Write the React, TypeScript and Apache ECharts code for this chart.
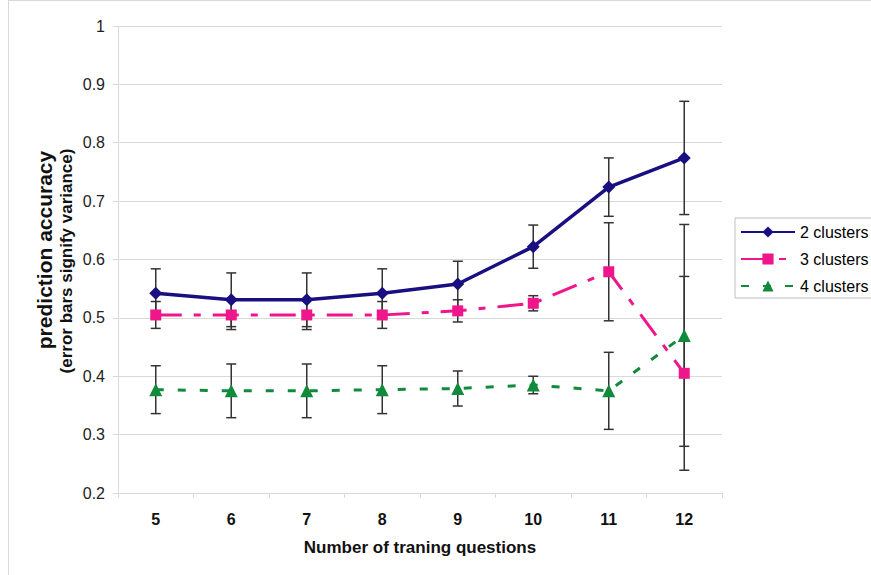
import React, { useEffect, useRef } from "react";
import * as echarts from "echarts";

const categories = ["5", "6", "7", "8", "9", "10", "11", "12"];
const seriesNames = ["2 clusters", "3 clusters", "4 clusters"];
const s2 = [0.542, 0.531, 0.531, 0.542, 0.558, 0.622, 0.724, 0.774];
const s2err = [0.042, 0.046, 0.046, 0.042, 0.039, 0.037, 0.05, 0.097];
const s3 = [0.505, 0.505, 0.505, 0.505, 0.512, 0.525, 0.579, 0.405];
const s3err = [0.023, 0.025, 0.025, 0.023, 0.019, 0.013, 0.084, 0.166];
const s4 = [0.377, 0.375, 0.375, 0.377, 0.379, 0.385, 0.375, 0.47];
const s4err = [0.041, 0.046, 0.046, 0.041, 0.03, 0.015, 0.066, 0.19];

const FONT = "'Liberation Sans', Arial, sans-serif";
const GRAY = "#d9d9d9";
const C2 = "#1a0f80";
const C3 = "#ef168c";
const C4 = "#128a3c";

function errData(vals: number[], errs: number[]) {
  return vals.map((v, i) => [i, v - errs[i], v + errs[i]]);
}

function errSeries(name: string, vals: number[], errs: number[]) {
  return {
    type: "custom",
    name,
    z: 1,
    data: errData(vals, errs),
    encode: { x: 0, y: [1, 2] },
    renderItem: (params: any, api: any) => {
      const x = api.value(0);
      const top = api.coord([x, api.value(2)]);
      const bot = api.coord([x, api.value(1)]);
      const hw = 5;
      const st = { stroke: "#333333", lineWidth: 1.5 };
      return {
        type: "group",
        children: [
          { type: "line", shape: { x1: top[0], y1: top[1], x2: bot[0], y2: bot[1] }, style: st },
          { type: "line", shape: { x1: top[0] - hw, y1: top[1], x2: top[0] + hw, y2: top[1] }, style: st },
          { type: "line", shape: { x1: bot[0] - hw, y1: bot[1], x2: bot[0] + hw, y2: bot[1] }, style: st },
        ],
      };
    },
  };
}

export default function App() {
  const ref = useRef<HTMLDivElement>(null);
  useEffect(() => {
    if (!ref.current) return;
    const chart = echarts.init(ref.current, undefined, { renderer: "svg" });
    chart.setOption({
      animation: false,
      backgroundColor: "#ffffff",
      textStyle: { fontFamily: FONT },
      grid: { left: 118, right: 149, top: 26, bottom: 82, containLabel: false },
      legend: {
        orient: "vertical",
        left: 735,
        top: 218,
        data: seriesNames,
        itemWidth: 54,
        itemHeight: 14,
        itemGap: 11,
        padding: [6, 4, 4, 5],
        borderColor: "#bfbfbf",
        borderWidth: 1,
        textStyle: { fontFamily: FONT, fontSize: 16, color: "#000" },
      },
      xAxis: {
        type: "category",
        data: categories,
        boundaryGap: true,
        axisLine: { lineStyle: { color: GRAY } },
        axisTick: { show: true, length: 5, lineStyle: { color: GRAY } },
        axisLabel: { fontFamily: FONT, fontSize: 16, fontWeight: "bold", color: "#111", margin: 18 },
        name: "Number of traning questions",
        nameLocation: "middle",
        nameGap: 46,
        nameTextStyle: { fontFamily: FONT, fontSize: 17, fontWeight: "bold", color: "#111" },
      },
      yAxis: {
        type: "value",
        min: 0.2,
        max: 1,
        interval: 0.1,
        axisLine: { show: true, lineStyle: { color: GRAY } },
        axisTick: { show: true, length: 5, lineStyle: { color: GRAY } },
        splitLine: { show: true, lineStyle: { color: GRAY, width: 1 } },
        axisLabel: {
          fontFamily: FONT,
          fontSize: 16,
          color: "#222",
          margin: 13,
          formatter: (v: number) => String(parseFloat(v.toFixed(1))),
        },
      },
      graphic: [
        { type: "line", shape: { x1: 8.5, y1: 0, x2: 8.5, y2: 575 }, style: { stroke: GRAY, lineWidth: 1 } },
        { type: "line", shape: { x1: 8, y1: 0.5, x2: 871, y2: 0.5 }, style: { stroke: GRAY, lineWidth: 1 } },
        {
          type: "text",
          x: 44,
          y: 250,
          rotation: Math.PI / 2,
          style: {
            text: "prediction accuracy",
            fontFamily: FONT,
            fontSize: 21,
            fontWeight: "bold",
            fill: "#111",
            align: "center",
            verticalAlign: "middle",
          },
        },
        {
          type: "text",
          x: 66,
          y: 261,
          rotation: Math.PI / 2,
          style: {
            text: "(error bars signify variance)",
            fontFamily: FONT,
            fontSize: 17,
            fontWeight: "bold",
            fill: "#111",
            align: "center",
            verticalAlign: "middle",
          },
        },
      ],
      series: [
        errSeries("err2", s2, s2err),
        errSeries("err3", s3, s3err),
        errSeries("err4", s4, s4err),
        {
          type: "line",
          name: seriesNames[0],
          data: s2,
          z: 3,
          symbol: "diamond",
          symbolSize: 13,
          itemStyle: { color: C2 },
          lineStyle: { color: C2, width: 3.5, type: "solid" },
        },
        {
          type: "line",
          name: seriesNames[1],
          data: s3,
          z: 3,
          symbol: "rect",
          symbolSize: 11,
          itemStyle: { color: C3 },
          lineStyle: { color: C3, width: 3, type: [26, 12, 7, 12] },
        },
        {
          type: "line",
          name: seriesNames[2],
          data: s4,
          z: 3,
          symbol: "triangle",
          symbolSize: 13,
          itemStyle: { color: C4 },
          lineStyle: { color: C4, width: 3, type: [8, 14] },
        },
      ],
    });
    return () => chart.dispose();
  }, []);
  return (
    <div
      ref={ref}
      style={{ position: "absolute", left: 0, top: 0, width: 871, height: 575 }}
    />
  );
}
